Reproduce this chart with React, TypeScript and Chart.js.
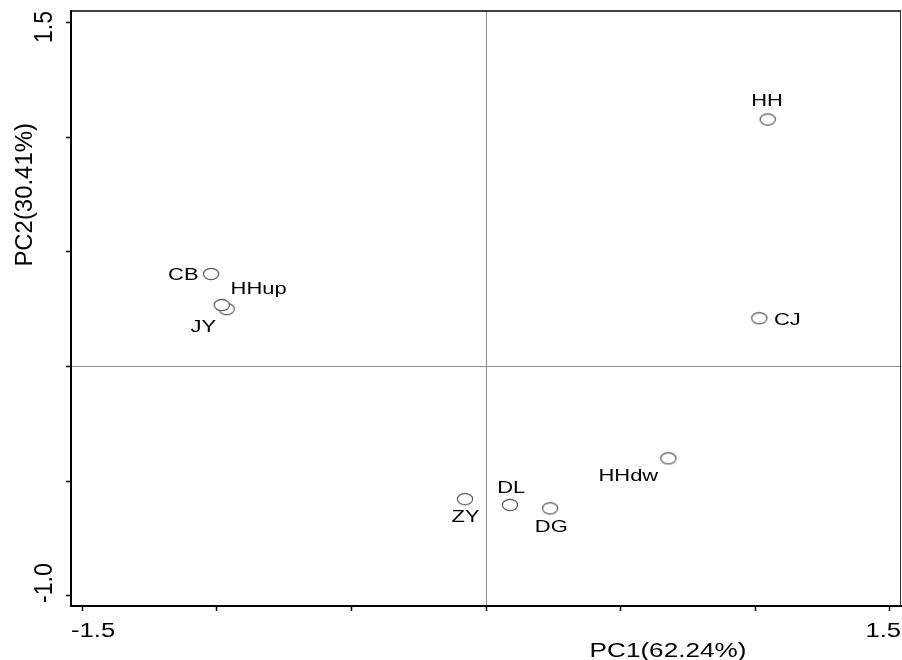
import React, { useEffect, useRef } from 'react';
import { Chart, registerables } from 'chart.js';

Chart.register(...registerables);

// ---- data ----
const SITES = ['HH', 'CJ', 'CB', 'HHup', 'JY', 'HHdw', 'ZY', 'DL', 'DG'];
const PC1 = [1.046, 1.015, -1.021, -0.963, -0.981, 0.677, -0.078, 0.089, 0.238];
const PC2 = [1.077, 0.21, 0.403, 0.25, 0.268, -0.401, -0.579, -0.604, -0.619];

const X_TICKS = [-1.5, -1.0, -0.5, 0, 0.5, 1.0, 1.5];
const X_TICK_LABELS = ['-1.5', '', '', '', '', '', '1.5'];
const Y_TICKS = [-1.0, -0.5, 0, 0.5, 1.0, 1.5];
const Y_TICK_LABELS = ['-1.0', '', '', '', '', '1.5'];
const X_RANGE = [-1.541, 1.541];
const Y_RANGE = [-1.045, 1.55];
const X_TITLE = 'PC1(62.24%)';
const Y_TITLE = 'PC2(30.41%)';

// ---- styles (label placement relative to its point, in px) ----
const LABEL_OFFSETS: Record<string, [number, number]> = {
  HH: [-0.7, -19.6],
  CJ: [28, 0.5],
  CB: [-27.7, 0],
  HHup: [32, -21.7],
  JY: [-18.4, 20.8],
  HHdw: [-40, 16.2],
  ZY: [0.5, 17],
  DL: [1.2, -18],
  DG: [1.2, 17.2],
};

const FONT = '"Liberation Sans", Arial, Helvetica, sans-serif';

function drawText(
  ctx: CanvasRenderingContext2D,
  text: string,
  cx: number,
  cy: number,
  size: number,
  sAlong: number,
  sAcross: number,
  rot: number
) {
  ctx.save();
  ctx.translate(cx, cy);
  if (rot) ctx.rotate(rot);
  ctx.scale(sAlong, sAcross);
  ctx.font = `${size}px ${FONT}`;
  ctx.fillStyle = '#000';
  ctx.textAlign = 'center';
  ctx.textBaseline = 'alphabetic';
  ctx.fillText(text, 0, 0.358 * size);
  ctx.restore();
}

function textLen(ctx: CanvasRenderingContext2D, text: string, size: number, sAlong: number) {
  ctx.save();
  ctx.font = `${size}px ${FONT}`;
  const w = ctx.measureText(text).width * sAlong;
  ctx.restore();
  return w;
}

function makeEllipse(): HTMLCanvasElement {
  const c = document.createElement('canvas');
  c.width = 20;
  c.height = 16;
  const g = c.getContext('2d')!;
  g.beginPath();
  g.ellipse(10, 8, 7.6, 5.6, 0, 0, Math.PI * 2);
  g.fillStyle = '#fff';
  g.fill();
  g.lineWidth = 1.2;
  g.strokeStyle = '#555';
  g.stroke();
  return c;
}

const decorPlugin = {
  id: 'decor',
  afterDraw(chart: any) {
    const { ctx, chartArea } = chart;
    const { left, right, top, bottom } = chartArea;
    // top & right frame
    ctx.save();
    ctx.strokeStyle = '#000';
    ctx.lineWidth = 1.5;
    ctx.beginPath();
    ctx.moveTo(left, top);
    ctx.lineTo(right, top);
    ctx.stroke();
    ctx.lineWidth = 1;
    ctx.strokeStyle = '#333';
    ctx.beginPath();
    ctx.moveTo(right - 0.5, top);
    ctx.lineTo(right - 0.5, bottom);
    ctx.stroke();
    ctx.restore();

    const xs = chart.scales.x;
    const ys = chart.scales.y;

    // x tick labels (clamped inside the frame)
    const xSize = 20.5, xAlong = 1.25;
    X_TICKS.forEach((v, i) => {
      const t = X_TICK_LABELS[i];
      if (!t) return;
      const half = textLen(ctx, t, xSize, xAlong) / 2;
      let cx = xs.getPixelForValue(v);
      cx = Math.max(left + half, Math.min(right - half, cx));
      drawText(ctx, t, cx, bottom + 24, xSize, xAlong, 1, 0);
    });

    // y tick labels (rotated, clamped)
    const ySize = 21, yAlong = 1.1, yAcross = 1.27;
    Y_TICKS.forEach((v, i) => {
      const t = Y_TICK_LABELS[i];
      if (!t) return;
      const half = textLen(ctx, t, ySize, yAlong) / 2;
      let cy = ys.getPixelForValue(v);
      cy = Math.max(top + half, Math.min(bottom - half - 3, cy));
      drawText(ctx, t, left - 28.5, cy, ySize, yAlong, yAcross, -Math.PI / 2);
    });

    // axis titles
    drawText(ctx, X_TITLE, left + (right - left) * 0.7193, bottom + 44, 19.5, 1.34, 1, 0);
    drawText(ctx, Y_TITLE, left - 47, top + (bottom - top) * 0.309, 18.4, 1.3, 1.27, -Math.PI / 2);

    // point labels
    const meta = chart.getDatasetMeta(0);
    meta.data.forEach((el: any, i: number) => {
      const name = SITES[i];
      const off = LABEL_OFFSETS[name] || [0, -18];
      drawText(ctx, name, el.x + off[0], el.y + off[1], 17.3, 1.27, 1, 0);
    });
  },
};

export default function App() {
  const ref = useRef<HTMLCanvasElement | null>(null);
  useEffect(() => {
    if (!ref.current) return;
    const ellipse = makeEllipse();
    const chart = new Chart(ref.current, {
      type: 'scatter',
      data: {
        datasets: [
          {
            label: 'sites',
            data: PC1.map((x, i) => ({ x, y: PC2[i] })),
            pointStyle: ellipse as any,
            pointRadius: 7,
            pointHoverRadius: 7,
          },
        ],
      },
      options: {
        responsive: false,
        animation: false,
        events: [],
        layout: { autoPadding: false, padding: { top: 11, right: 1, left: 0, bottom: 0 } },
        plugins: { legend: { display: false }, tooltip: { enabled: false } },
        scales: {
          x: {
            type: 'linear',
            min: X_RANGE[0],
            max: X_RANGE[1],
            afterBuildTicks: (s: any) => {
              s.ticks = X_TICKS.map((value) => ({ value }));
            },
            afterFit: (s: any) => {
              s.height = 54;
            },
            ticks: { display: false },
            grid: {
              display: true,
              drawOnChartArea: true,
              drawTicks: true,
              tickLength: 5,
              tickColor: '#000',
              tickWidth: 1.5,
              color: (c: any) => (c.tick && c.tick.value === 0 ? '#8c8c8c' : 'rgba(0,0,0,0)'),
              lineWidth: 1,
            },
            border: { display: true, color: '#000', width: 2 },
          },
          y: {
            type: 'linear',
            min: Y_RANGE[0],
            max: Y_RANGE[1],
            afterBuildTicks: (s: any) => {
              s.ticks = Y_TICKS.map((value) => ({ value }));
            },
            afterFit: (s: any) => {
              s.width = 71;
            },
            ticks: { display: false },
            grid: {
              display: true,
              drawOnChartArea: true,
              drawTicks: true,
              tickLength: 5,
              tickColor: '#000',
              tickWidth: 1.5,
              color: (c: any) => (c.tick && c.tick.value === 0 ? '#8c8c8c' : 'rgba(0,0,0,0)'),
              lineWidth: 1,
            },
            border: { display: true, color: '#000', width: 2 },
          },
        },
      },
      plugins: [decorPlugin],
    });
    return () => chart.destroy();
  }, []);

  return (
    <div style={{ position: 'absolute', left: 0, top: 0, width: 902, height: 660, background: '#fff' }}>
      <canvas ref={ref} width={902} height={660} style={{ display: 'block' }} />
    </div>
  );
}
